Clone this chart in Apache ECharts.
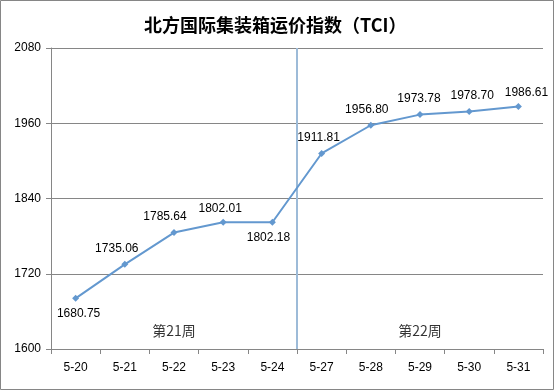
<!DOCTYPE html>
<html>
<head>
<meta charset="utf-8">
<script src="https://cdn.jsdelivr.net/npm/echarts@6/dist/echarts.min.js"></script>
<style>html,body{margin:0;padding:0;background:#fff}#c{width:554px;height:390px}</style>
</head>
<body>
<div id="c"></div>
<script>
const categories = ['5-20','5-21','5-22','5-23','5-24','5-27','5-28','5-29','5-30','5-31'];
const values = [1680.75, 1735.06, 1785.64, 1802.01, 1802.18, 1911.81, 1956.80, 1973.78, 1978.70, 1986.61];
const weekNames = ['第21周', '第22周'];
const weekDays = [5, 5];
const yMin = 1600, yMax = 2080, yStep = 120;
const titleText = '北方国际集装箱运价指数（TCI）';

const labelOffsets = [[3,0,'bottom'],[-8,0,'top'],[-9,0,'top'],[-3,2,'top'],[-4,0,'bottom'],[-3,0,'top'],[-4,0,'top'],[-1,0,'top'],[3,0,'top'],[8,2,'top']];
const chart = echarts.init(document.getElementById('c'));
const txt = '#000';
const font = 'Liberation Sans, Arial, sans-serif';

const lineData = values.map((v, i) => ({
  value: v,
  label: { position: labelOffsets[i][2], offset: [labelOffsets[i][0], labelOffsets[i][1]] }
}));
const split = weekDays[0];
const total = categories.length;
const weekCenters = [weekDays[0] / 2, weekDays[0] + weekDays[1] / 2];

chart.setOption({
  animation: false,
  title: {
    text: titleText, left: 144, top: 16,
    textStyle: { fontSize: 18, fontWeight: 'bold', color: '#000', fontFamily: 'Noto Sans CJK SC, sans-serif' },
    padding: 0
  },
  graphic: [{ type: 'rect', shape: { x: 0.5, y: 0.5, width: 553, height: 389 }, style: { fill: 'none', stroke: '#868686', lineWidth: 1 }, silent: true }],
  grid: { left: 51, right: 11, top: 48, bottom: 41 },
  xAxis: [{
    type: 'category', data: categories, boundaryGap: true,
    axisLine: { lineStyle: { color: '#868686' } },
    axisTick: { show: true, length: 5, lineStyle: { color: '#868686' } },
    axisLabel: { color: txt, fontSize: 12, fontFamily: font, margin: 13 },
    splitLine: { show: false }
  }, {
    type: 'value', min: 0, max: total, show: false
  }],
  yAxis: {
    type: 'value', min: yMin, max: yMax, interval: yStep,
    axisLine: { show: true, lineStyle: { color: '#868686' } },
    axisTick: { show: true, length: 5, lineStyle: { color: '#868686' } },
    axisLabel: { color: txt, fontSize: 12, fontFamily: font, margin: 10, formatter: v => String(v) },
    splitLine: { show: true, lineStyle: { color: '#868686', width: 1 } }
  },
  series: [{
    type: 'line', xAxisIndex: 1, data: [[split, yMin], [split, yMax]],
    symbol: 'none', lineStyle: { color: '#9dbbd8', width: 2 }, silent: true, z: 1
  }, {
    type: 'scatter', xAxisIndex: 1, symbolSize: 0,
    data: weekCenters.map((x, i) => ({ value: [x, yMin + 30], name: weekNames[i] })),
    label: { show: true, formatter: p => p.name, position: 'inside', color: '#000', fontSize: 14, fontFamily: 'Noto Sans CJK SC, sans-serif' },
    silent: true
  }, {
    type: 'line', data: lineData, symbol: 'diamond', symbolSize: 7,
    itemStyle: { color: '#6398cf' }, lineStyle: { color: '#6398cf', width: 2 },
    label: { show: true, color: txt, fontSize: 12, fontFamily: font, distance: 6, formatter: p => p.value.toFixed(2) },
    z: 3
  }]
});
</script>
</body>
</html>
